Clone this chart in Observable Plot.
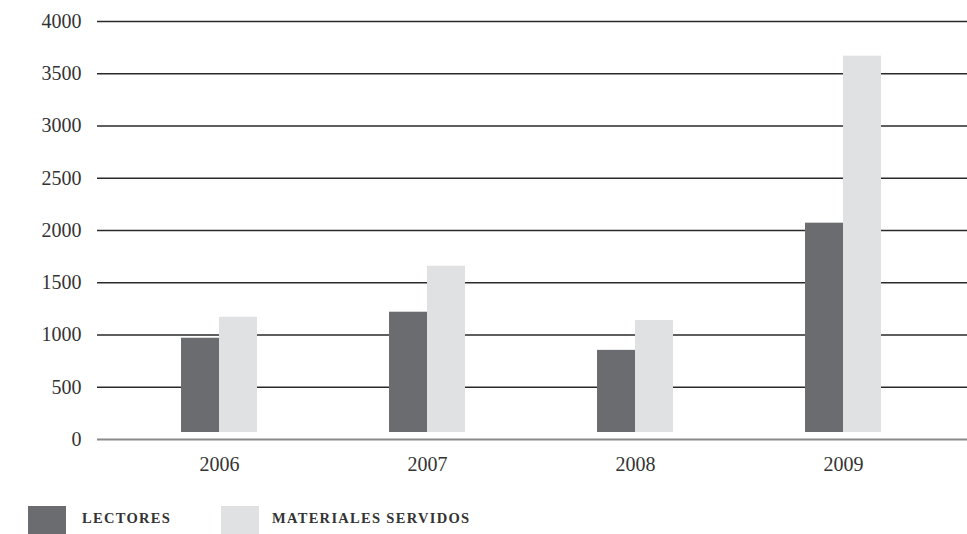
<!DOCTYPE html>
<html>
<head>
<meta charset="utf-8">
<script src="https://cdn.jsdelivr.net/npm/d3@7"></script>
<script src="https://cdn.jsdelivr.net/npm/@observablehq/plot@0.6"></script>
<style>
  html, body { margin: 0; padding: 0; background: #fff; }
  body { width: 967px; height: 534px; overflow: hidden; font-family: "Liberation Serif", serif; }
  #legend { position: relative; height: 44px; }
  .sw { position: absolute; top: 16px; width: 38px; height: 30px; }
  .lt { position: absolute; top: 21px; font-size: 14.5px; letter-spacing: 1.3px; color: #333; font-weight: bold; font-family: "Liberation Serif", serif; line-height: 1; }
</style>
</head>
<body>
<div id="chart"></div>
<div id="legend"></div>
<script>
const years = ["2006", "2007", "2008", "2009"];
const lectores = [969, 1218, 853, 2070];
const materiales = [1170, 1658, 1139, 3668];
const yTicks = [0, 500, 1000, 1500, 2000, 2500, 3000, 3500, 4000];
const seriesNames = ["LECTORES", "MATERIALES SERVIDOS"];
const seriesColors = ["#6b6c70", "#e0e1e3"];

const dataL = years.map((y, i) => ({year: y, value: lectores[i]}));
const dataM = years.map((y, i) => ({year: y, value: materiales[i]}));

const chart = Plot.plot({
  width: 967,
  height: 490,
  marginLeft: 97,
  marginRight: 0,
  marginTop: 21,
  marginBottom: 51,
  style: {fontFamily: "Liberation Serif, serif", fontSize: "20px", color: "#333", background: "#fff"},
  x: {domain: years, range: [115, 947], paddingInner: 0.635, paddingOuter: 0.3175, label: null},
  y: {domain: [0, 4000], label: null},
  marks: [
    Plot.ruleY(yTicks.filter(d => d > 0), {stroke: "#2a2a2a", strokeWidth: 1.3}),
    Plot.barY(dataL, {x: "year", y: "value", fill: seriesColors[0], insetRight: 38, insetBottom: 7}),
    Plot.barY(dataM, {x: "year", y: "value", fill: seriesColors[1], insetLeft: 38, insetBottom: 7}),
    Plot.ruleY([0], {stroke: "#8a8a8a", strokeWidth: 2}),
    Plot.axisY({ticks: yTicks, tickSize: 0, tickPadding: 16, tickFormat: d => String(d), fontSize: 20, style: {letterSpacing: "2px"}}),
    Plot.axisX({tickSize: 0, tickPadding: 17, fontSize: 20, style: {letterSpacing: "2px"}})
  ]
});
document.getElementById("chart").appendChild(chart);

const legend = document.getElementById("legend");
const pos = [[28, 82], [221, 272]];
seriesNames.forEach((n, i) => {
  const s = document.createElement("div");
  s.className = "sw";
  s.style.left = pos[i][0] + "px";
  s.style.background = seriesColors[i];
  legend.appendChild(s);
  const t = document.createElement("div");
  t.className = "lt";
  t.style.left = pos[i][1] + "px";
  t.textContent = n;
  legend.appendChild(t);
});
</script>
</body>
</html>
